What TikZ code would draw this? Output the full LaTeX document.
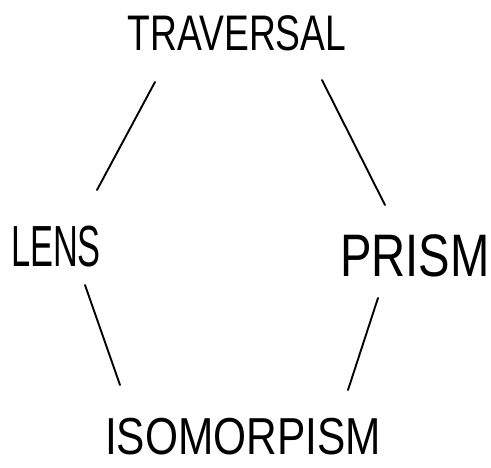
\documentclass[tikz,border=0pt]{standalone}
\usepackage{fontspec}
\setmainfont{Liberation Sans}
\begin{document}
\begin{tikzpicture}[x=1pt,y=-1pt,
  lbl/.style={font=\fontsize{40}{40}\selectfont, inner sep=0pt, anchor=center},
  edge/.style={line width=1.9pt, line cap=round}]
\useasboundingbox (0,0) rectangle (491,468);
\node[lbl] (trav) at (237,33) {\scalebox{0.93}[1.25]{TRAVERSAL}};
\node[lbl] (lens) at (56,247) {\scalebox{0.86}[1.45]{LENS}};
\node[lbl] (prism) at (415,256) {\scalebox{1.18}[1.5]{PRISM}};
\node[lbl] (iso) at (243,437) {\scalebox{1.06}[1.3]{ISOMORPISM}};
\coordinate (a1) at (155,82);
\coordinate (a2) at (97,190);
\coordinate (b1) at (322,80);
\coordinate (b2) at (385,205);
\coordinate (c1) at (85,285);
\coordinate (c2) at (120,385);
\coordinate (d1) at (378,298);
\coordinate (d2) at (348,390);
\draw[edge] (a1) -- (a2);
\draw[edge] (b1) -- (b2);
\draw[edge] (c1) -- (c2);
\draw[edge] (d1) -- (d2);
\end{tikzpicture}
\end{document}
